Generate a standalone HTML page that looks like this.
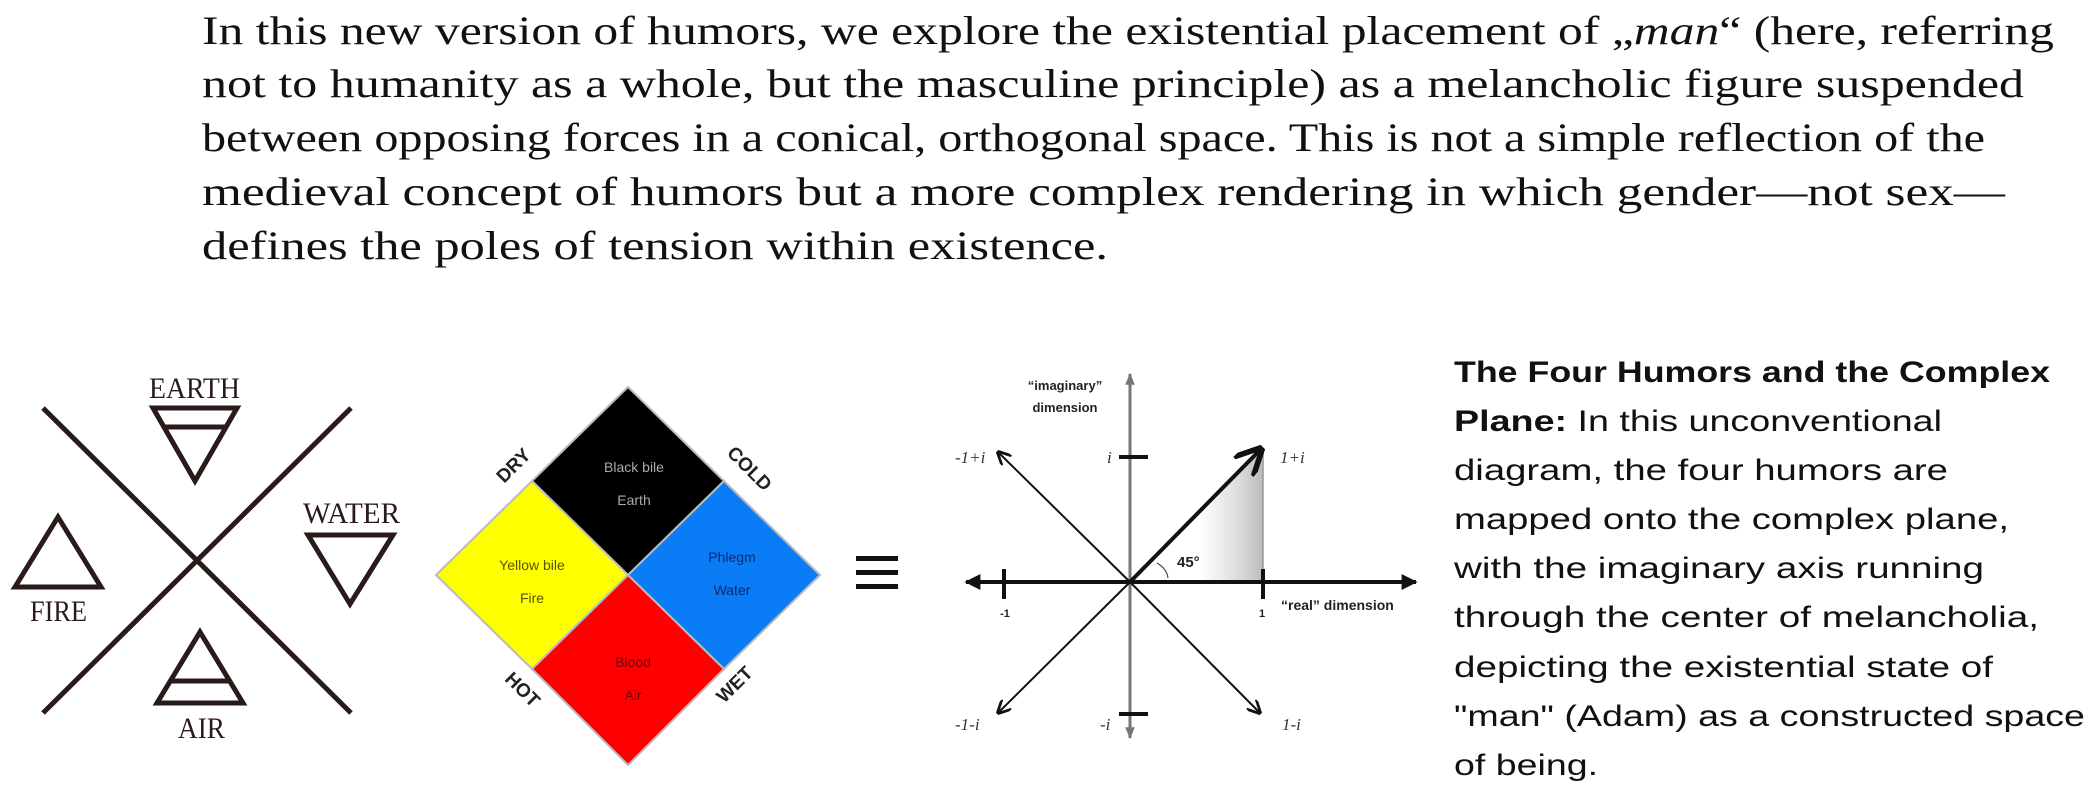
<!DOCTYPE html>
<html><head><meta charset="utf-8"><style>
html,body{margin:0;padding:0;background:#fff;}
svg{display:block;}
.p{font-family:"Liberation Serif",serif;font-size:40px;fill:#111;}
.c{font-family:"Liberation Sans",sans-serif;font-size:30px;fill:#111;}
.el{font-family:"Liberation Serif",serif;font-size:30px;fill:#2a1a1a;}
.q{font-family:"Liberation Sans",sans-serif;font-size:14px;}
.g{font-family:"Liberation Sans",sans-serif;font-weight:bold;fill:#222;}
.it{font-family:"Liberation Serif",serif;font-style:italic;font-size:17px;fill:#333;}
</style></head><body>
<svg width="2085" height="794" viewBox="0 0 2085 794" xmlns="http://www.w3.org/2000/svg">
<defs>
<linearGradient id="sh" x1="0" x2="1" y1="0" y2="0">
<stop offset="0" stop-color="#fff"/><stop offset="0.6" stop-color="#ddd"/><stop offset="1" stop-color="#bbb"/>
</linearGradient>
<marker id="ah" viewBox="0 0 10 10" refX="8" refY="5" markerWidth="7" markerHeight="7" orient="auto-start-reverse"><path d="M0,0 L10,5 L0,10" fill="none" stroke="#111" stroke-width="2"/></marker>
<marker id="ahf" viewBox="0 0 10 10" refX="9" refY="5" markerWidth="4" markerHeight="4" orient="auto-start-reverse"><path d="M0,0 L10,5 L0,10 z" fill="#111"/></marker>
<marker id="ahg" viewBox="0 0 10 10" refX="9" refY="5" markerWidth="4" markerHeight="4" orient="auto-start-reverse"><path d="M0,1 L10,5 L0,9 z" fill="#777"/></marker>
</defs>

<text class="p" x="202" y="44" textLength="1852" lengthAdjust="spacingAndGlyphs">In this new version of humors, we explore the existential placement of „<tspan font-style="italic">man</tspan>“ (here, referring</text>
<text class="p" x="202" y="97" textLength="1822" lengthAdjust="spacingAndGlyphs">not to humanity as a whole, but the masculine principle) as a melancholic figure suspended</text>
<text class="p" x="202" y="151" textLength="1783" lengthAdjust="spacingAndGlyphs">between opposing forces in a conical, orthogonal space. This is not a simple reflection of the</text>
<text class="p" x="202" y="205" textLength="1803" lengthAdjust="spacingAndGlyphs">medieval concept of humors but a more complex rendering in which gender—not sex—</text>
<text class="p" x="202" y="259" textLength="906" lengthAdjust="spacingAndGlyphs">defines the poles of tension within existence.</text>

<g stroke="#2a1a1a" stroke-width="5" fill="none">
<line x1="43" y1="408" x2="351" y2="713"/>
<line x1="351" y1="408" x2="43" y2="713"/>
<path d="M153,408 L237,408 L195,481 Z"/>
<line x1="163" y1="427" x2="227" y2="427"/>
<path d="M58,517 L101,587 L15,587 Z"/>
<path d="M308,535 L393,535 L350,604 Z"/>
<path d="M200,632 L243,703 L157,703 Z"/>
<line x1="170" y1="681" x2="230" y2="681"/>
</g>
<text class="el" x="149" y="398" textLength="91" lengthAdjust="spacingAndGlyphs">EARTH</text>
<text class="el" x="30" y="621" textLength="57" lengthAdjust="spacingAndGlyphs">FIRE</text>
<text class="el" x="303" y="523" textLength="97" lengthAdjust="spacingAndGlyphs">WATER</text>
<text class="el" x="178" y="738" textLength="47" lengthAdjust="spacingAndGlyphs">AIR</text>

<g stroke="#bbb" stroke-width="2">
<polygon points="628,387 724,481 628,575 532,481" fill="#000"/>
<polygon points="532,481 628,575 532,669 436,575" fill="#ffff00"/>
<polygon points="724,481 820,575 724,669 628,575" fill="#0a7cf5"/>
<polygon points="628,575 724,669 628,765 532,669" fill="#ff0000"/>
</g>
<g class="q" text-anchor="middle">
<text x="634" y="472" fill="#aaa">Black bile</text><text x="634" y="505" fill="#aaa">Earth</text>
<text x="532" y="570" fill="#555500">Yellow bile</text><text x="532" y="603" fill="#555500">Fire</text>
<text x="732" y="562" fill="#0a2a70">Phlegm</text><text x="732" y="595" fill="#0a2a70">Water</text>
<text x="633" y="667" fill="#700">Blood</text><text x="633" y="700" fill="#700">Air</text>
</g>
<g class="g" font-size="19" text-anchor="middle">
<text transform="translate(518,470) rotate(-45)">DRY</text>
<text transform="translate(745,473) rotate(45)">COLD</text>
<text transform="translate(518,694) rotate(45)">HOT</text>
<text transform="translate(739,689) rotate(-45)">WET</text>
</g>

<rect x="856" y="556" width="42" height="5" fill="#111"/>
<rect x="856" y="570" width="42" height="5" fill="#111"/>
<rect x="856" y="584" width="42" height="5" fill="#111"/>

<polygon points="1200,582 1263,582 1263,448 1200,515" fill="url(#sh)"/>
<line x1="1263" y1="448" x2="1263" y2="582" stroke="#999" stroke-width="1.5"/>
<line x1="1130" y1="374" x2="1130" y2="738" stroke="#777" stroke-width="3" marker-start="url(#ahg)" marker-end="url(#ahg)"/>
<line x1="966" y1="582" x2="1416" y2="582" stroke="#111" stroke-width="4" marker-start="url(#ahf)" marker-end="url(#ahf)"/>
<g stroke="#111" stroke-width="4">
<line x1="1004" y1="569" x2="1004" y2="599"/>
<line x1="1263" y1="569" x2="1263" y2="599"/>
<line x1="1119" y1="457" x2="1148" y2="457"/>
<line x1="1119" y1="714" x2="1148" y2="714"/>
</g>
<line x1="1130" y1="582" x2="1259" y2="451" stroke="#111" stroke-width="4" marker-end="url(#ah)"/>
<g stroke="#111" stroke-width="2" marker-end="url(#ah)">
<line x1="1130" y1="582" x2="999" y2="453"/>
<line x1="1130" y1="582" x2="999" y2="712"/>
<line x1="1130" y1="582" x2="1259" y2="712"/>
</g>
<path d="M1157,563 Q1167,569 1168,578" fill="none" stroke="#444" stroke-width="1.2"/>
<text class="g" x="1177" y="567" font-size="15">45°</text>
<g class="g" font-size="13" text-anchor="middle">
<text x="1065" y="390">“imaginary”</text><text x="1065" y="412">dimension</text>
<text x="1005" y="617" font-size="11">-1</text><text x="1262" y="617" font-size="11">1</text>
</g>
<text class="g" x="1281" y="610" font-size="14">“real” dimension</text>
<text class="it" x="955" y="463">-1+i</text>
<text class="it" x="1280" y="463">1+i</text>
<text class="it" x="1107" y="463">i</text>
<text class="it" x="1100" y="730">-i</text>
<text class="it" x="955" y="730">-1-i</text>
<text class="it" x="1282" y="730">1-i</text>

<text class="c" x="1454" y="382" textLength="596" lengthAdjust="spacingAndGlyphs" font-weight="bold">The Four Humors and the Complex</text>
<text class="c" x="1454" y="431" textLength="488" lengthAdjust="spacingAndGlyphs"><tspan font-weight="bold">Plane:</tspan> In this unconventional</text>
<text class="c" x="1454" y="480" textLength="494" lengthAdjust="spacingAndGlyphs">diagram, the four humors are</text>
<text class="c" x="1454" y="529" textLength="555" lengthAdjust="spacingAndGlyphs">mapped onto the complex plane,</text>
<text class="c" x="1454" y="578" textLength="530" lengthAdjust="spacingAndGlyphs">with the imaginary axis running</text>
<text class="c" x="1454" y="627" textLength="585" lengthAdjust="spacingAndGlyphs">through the center of melancholia,</text>
<text class="c" x="1454" y="677" textLength="539" lengthAdjust="spacingAndGlyphs">depicting the existential state of</text>
<text class="c" x="1454" y="726" textLength="631" lengthAdjust="spacingAndGlyphs">"man" (Adam) as a constructed space</text>
<text class="c" x="1454" y="775" textLength="144" lengthAdjust="spacingAndGlyphs">of being.</text>
</svg>
</body></html>
